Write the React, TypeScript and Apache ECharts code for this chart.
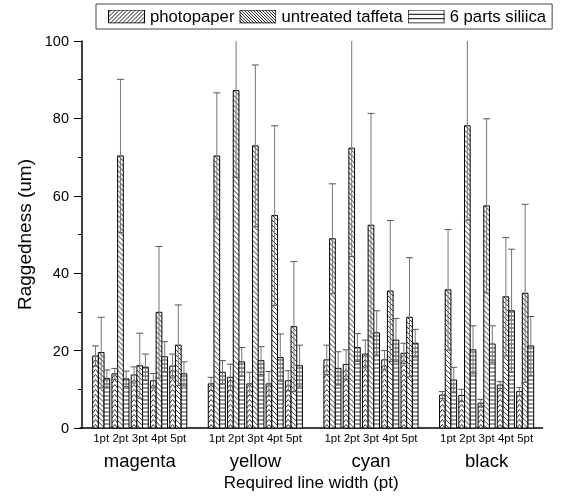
import React, { useEffect, useRef } from 'react';
import * as echarts from 'echarts';

const groups = ['magenta', 'yellow', 'cyan', 'black'];
const widths = ['1pt', '2pt', '3pt', '4pt', '5pt'];
const seriesNames = ['photopaper', 'untreated taffeta', '6 parts siliica'];

// order: magenta 1..5pt, yellow 1..5pt, cyan 1..5pt, black 1..5pt
const photoMean = [18.6, 14.0, 13.7, 12.2, 16.0, 11.4, 13.1, 11.4, 11.4, 12.2, 17.6, 16.4, 19.1, 17.6, 19.3, 8.5, 8.4, 6.4, 11.1, 9.4];
const photoErr = [2.6, 1.4, 2.1, 1.9, 3.1, 1.7, 3.4, 3.0, 3.2, 2.6, 3.8, 3.8, 3.6, 2.4, 2.6, 0.9, 1.6, 1.0, 0.9, 1.1];
const taffetaMean = [19.5, 70.3, 16.1, 29.9, 21.4, 70.3, 87.2, 72.9, 54.9, 26.2, 48.9, 72.3, 52.4, 35.4, 28.6, 35.7, 78.1, 57.4, 33.9, 34.8];
const taffetaErr = [9.1, 19.8, 8.4, 17.0, 10.4, 16.3, 22.4, 20.9, 23.2, 16.8, 14.2, 28.0, 28.9, 18.2, 15.4, 15.6, 24.4, 22.5, 15.3, 23.0];
const silicaMean = [12.8, 12.7, 15.7, 18.4, 14.0, 14.4, 17.1, 17.4, 18.2, 16.1, 15.4, 20.8, 24.6, 22.7, 21.9, 12.4, 20.2, 21.7, 30.3, 21.2];
const silicaErr = [2.2, 2.0, 3.4, 3.9, 3.1, 3.0, 3.7, 3.6, 6.1, 5.3, 4.3, 3.6, 5.7, 5.6, 3.6, 3.3, 6.2, 4.7, 15.9, 7.6];

const FONT = '"Liberation Sans", Arial, Helvetica, sans-serif';

const xPos = (i: number) => Math.floor(i / 5) * 6 + (i % 5) + 1;
const groupCenters = groups.map((_, g) => g * 6 + 3);

function svgIcon(kind: string) {
  const w = 37, h = 14;
  let lines = '';
  if (kind === 'fwd') {
    for (let k = -h; k < w + h; k += 4) lines += `<line x1="${k}" y1="${h}" x2="${k + h}" y2="0" stroke="#000" stroke-width="0.9"/>`;
  } else if (kind === 'back') {
    for (let k = -h; k < w + h; k += 3) lines += `<line x1="${k}" y1="0" x2="${k + h}" y2="${h}" stroke="#000" stroke-width="0.9"/>`;
  } else {
    [4.8, 9.2].forEach((y) => (lines += `<line x1="0" y1="${y}" x2="${w}" y2="${y}" stroke="#000" stroke-width="1"/>`));
  }
  const svg = `<svg xmlns="http://www.w3.org/2000/svg" width="${w}" height="${h}"><rect x="0" y="0" width="${w}" height="${h}" fill="#fff"/>${lines}<rect x="0.5" y="0.5" width="${w - 1}" height="${h - 1}" fill="none" stroke="#000" stroke-width="1"/></svg>`;
  return 'image://data:image/svg+xml;charset=utf-8,' + encodeURIComponent(svg);
}

function barRender(idx: number, kind: string) {
  return (params: any, api: any) => {
    const x = api.value(0);
    const v = api.value(1);
    const p0 = api.coord([x, 0]);
    const p1 = api.coord([x, v]);
    const slot = api.size([1, 0])[0];
    const bw = slot * 0.295;
    const cx = p0[0] + (idx - 1) * bw;
    const l = cx - bw / 2;
    const r = cx + bw / 2;
    const top = p1[1];
    const bottom = p0[1];
    const children: any[] = [
      { type: 'rect', shape: { x: l, y: top, width: bw, height: bottom - top }, style: { fill: '#fff' } },
    ];
    const ls = { stroke: '#000', lineWidth: 0.8 };
    if (kind === 'chev') {
      const hh = 3.5;
      for (let y = bottom; y - hh >= top; y -= 5) {
        children.push({ type: 'polyline', shape: { points: [[l, y], [cx, y - hh], [r, y]] }, style: { ...ls, fill: 'none' } });
      }
    } else if (kind === 'back') {
      for (let yy = top - bw; yy < bottom; yy += 5) {
        const xs = l + Math.max(0, top - yy);
        const xe = Math.min(r, l + (bottom - yy));
        if (xe > xs) {
          children.push({ type: 'line', shape: { x1: xs, y1: yy + (xs - l), x2: xe, y2: yy + (xe - l) }, style: ls });
        }
      }
    } else {
      for (let y = bottom - 4; y > top; y -= 4) {
        children.push({ type: 'line', shape: { x1: l, y1: y, x2: r, y2: y }, style: ls });
      }
    }
    children.push({ type: 'rect', shape: { x: l, y: top, width: bw, height: bottom - top }, style: { fill: 'none', stroke: '#000', lineWidth: 1 } });
    return { type: 'group', children };
  };
}

function errRender(idx: number) {
  return (params: any, api: any) => {
    const x = api.value(0);
    const m = api.value(1);
    const e = api.value(2);
    const lo = api.coord([x, m - e]);
    const hi = api.coord([x, m + e]);
    const slot = api.size([1, 0])[0];
    const bw = slot * 0.295;
    const cx = lo[0] + (idx - 1) * bw;
    const cap = 3.5;
    const st = { stroke: '#777', lineWidth: 1 };
    return {
      type: 'group',
      children: [
        { type: 'line', shape: { x1: cx, y1: lo[1], x2: cx, y2: hi[1] }, style: st },
        { type: 'line', shape: { x1: cx - cap, y1: lo[1], x2: cx + cap, y2: lo[1] }, style: { stroke: '#555', lineWidth: 1 } },
        { type: 'line', shape: { x1: cx - cap, y1: hi[1], x2: cx + cap, y2: hi[1] }, style: { stroke: '#555', lineWidth: 1 } },
      ],
    };
  };
}

export default function App() {
  const ref = useRef<HTMLDivElement>(null);
  useEffect(() => {
    if (!ref.current) return;
    const chart = echarts.init(ref.current, undefined, { renderer: 'svg' });
    const means = [photoMean, taffetaMean, silicaMean];
    const errs = [photoErr, taffetaErr, silicaErr];
    const kinds = ['chev', 'back', 'horiz'];
    const icons = [svgIcon('fwd'), svgIcon('back'), svgIcon('horiz')];

    const barSeries = means.map((arr, k) => ({
      type: 'custom',
      name: seriesNames[k],
      renderItem: barRender(k, kinds[k]),
      data: arr.map((v, i) => [xPos(i), v]),
      encode: { x: 0, y: 1 },
      clip: false,
      z: 2,
    }));
    const errSeries = means.map((arr, k) => ({
      type: 'custom',
      name: 'err' + k,
      renderItem: errRender(k),
      data: arr.map((v, i) => [xPos(i), v, errs[k][i]]),
      encode: { x: 0, y: 1 },
      clip: true,
      z: 3,
    }));
    const ptLabels = groups.flatMap((_, g) => widths.map((w, i) => ({ x: g * 6 + i + 1, t: w })));
    const ptSeries = {
      type: 'custom',
      name: 'ptLabels',
      silent: true,
      clip: false,
      data: ptLabels.map((p) => [p.x, 0]),
      encode: { x: 0, y: 1 },
      renderItem: (params: any, api: any) => {
        const c = api.coord([api.value(0), 0]);
        return {
          type: 'text',
          x: c[0],
          y: c[1] + 10,
          style: { text: ptLabels[params.dataIndex].t, fontSize: 11.5, fontFamily: FONT, fill: '#000', align: 'center', verticalAlign: 'middle' },
        };
      },
    };
    const groupSeries = {
      type: 'custom',
      name: 'groupLabels',
      silent: true,
      clip: false,
      data: groupCenters.map((x) => [x, 0]),
      encode: { x: 0, y: 1 },
      renderItem: (params: any, api: any) => {
        const c = api.coord([api.value(0), 0]);
        return {
          type: 'text',
          x: c[0],
          y: c[1] + 32,
          style: { text: groups[params.dataIndex], fontSize: 18.5, fontFamily: FONT, fill: '#000', align: 'center', verticalAlign: 'middle' },
        };
      },
    };

    chart.setOption({
      animation: false,
      textStyle: { fontFamily: FONT },
      legend: {
        left: 96,
        top: 4,
        padding: [4, 6, 4, 12],
        itemGap: 5,
        itemWidth: 37,
        itemHeight: 14,
        borderColor: '#444',
        borderWidth: 1,
        textStyle: { fontSize: 16.7, color: '#000', fontFamily: FONT },
        data: seriesNames.map((n, k) => ({ name: n, icon: icons[k] })),
        selectedMode: false,
      },
      grid: { left: 80, right: 21.5, top: 41, bottom: 70, containLabel: false },
      xAxis: {
        type: 'value',
        min: -0.1,
        max: 23.9,
        name: 'Required line width (pt)',
        nameLocation: 'middle',
        nameGap: 46,
        nameTextStyle: { fontSize: 17, color: '#000', fontFamily: FONT },
        axisLine: { show: true, lineStyle: { color: '#000', width: 1.5 } },
        axisTick: { show: false },
        axisLabel: { show: false },
        splitLine: { show: false },
      },
      yAxis: {
        type: 'value',
        min: 0,
        max: 100,
        interval: 20,
        name: 'Raggedness (um)',
        nameLocation: 'middle',
        nameGap: 45,
        nameTextStyle: { fontSize: 19, color: '#000', fontFamily: FONT },
        axisLine: { show: true, lineStyle: { color: '#000', width: 1.5 } },
        axisTick: { show: true, inside: false, length: 8, lineStyle: { color: '#000', width: 1 } },
        minorTick: { show: true, splitNumber: 2, length: 4, lineStyle: { color: '#000', width: 1 } },
        axisLabel: { fontSize: 14.5, color: '#000', margin: 11, fontFamily: FONT },
        splitLine: { show: false },
      },
      series: [...barSeries, ...errSeries, ptSeries, groupSeries],
    });
    return () => chart.dispose();
  }, []);
  return <div ref={ref} style={{ position: 'fixed', left: 0, top: 0, width: 564, height: 498 }} />;
}
